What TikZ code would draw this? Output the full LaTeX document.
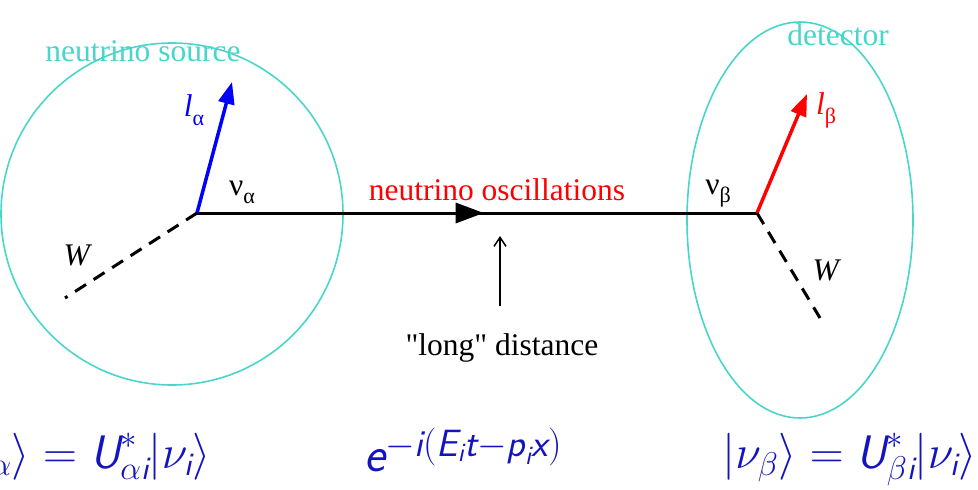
\RequirePackage{fix-cm}
\documentclass[tikz,border=0pt]{standalone}
\usepackage{amsmath}
\usepackage{fontspec}
\setmainfont{Liberation Serif}
\newfontfamily\qfont{Liberation Serif}
\usetikzlibrary{arrows.meta,decorations.markings}
\definecolor{turq}{RGB}{72,214,204}
\definecolor{eqblue}{RGB}{20,20,190}
\newcommand{\sfit}[1]{\text{\sffamily\itshape #1}}
\begin{document}
\begin{tikzpicture}[x=1pt,y=-1pt,
  txt/.style={inner sep=0pt,font=\fontsize{31.5}{36}\selectfont},
  eqn/.style={inner sep=0pt,text=eqblue,font=\fontsize{47}{52}\selectfont},
  halo/.style={draw=turq,line width=1.6pt},
  fermion/.style={line width=3pt},
  lepton/.style={line width=3.5pt,-{Triangle[length=22pt,width=16pt]}},
  wline/.style={line width=3pt,dash pattern=on 13pt off 9pt}
]
\useasboundingbox (0,0) rectangle (978,490);
% halos
\draw[halo] (172,214) circle (171);
\draw[halo] (800,220) ellipse (113 and 198);
\node[txt,text=turq] (src) at (143,51) {neutrino source};
\node[txt,text=turq] (det) at (838,35) {detector};
% vertices
\coordinate (va) at (197,213);
\coordinate (vb) at (757,213);
\coordinate (la) at (232,82);
\coordinate (lb) at (807,94);
\coordinate (wa) at (65,298);
\coordinate (wb) at (820,318);
% main propagator
\draw[fermion,postaction={decorate},decoration={markings,
  mark=at position 0.512 with {\arrow{Triangle[length=28pt,width=20pt]}}}] (va) -- (vb);
% leptons
\draw[lepton,blue] (va) -- (la);
\draw[lepton,red] (vb) -- (lb);
% W lines
\draw[wline] (va) -- (wa);
\draw[wline] (vb) -- (wb);
% labels
\node[txt,text=blue] (lal) at (194,110) {\textit{l}\raisebox{-9pt}{\fontsize{22}{24}\selectfont α}};
\node[txt,text=red] (lbl) at (826,110) {\textit{l}\raisebox{-9pt}{\fontsize{22}{24}\selectfont β}};
\node[txt] (nal) at (242,192) {ν\raisebox{-8pt}{\fontsize{22}{24}\selectfont α}};
\node[txt] (nbl) at (718,194) {ν\raisebox{-8pt}{\fontsize{22}{24}\selectfont β}};
\node[txt] (wal) at (78,255) {\textit{W}};
\node[txt] (wbl) at (827,270) {\textit{W}};
\node[txt,text=red] (osc) at (497,190) {neutrino oscillations};
% long distance
\node[txt] (dist) at (502,348) {\qfont "long" distance};
\coordinate (dbase) at (500,306);
\coordinate (dtip) at (500,236);
\draw[line width=1.5pt,-{Straight Barb[length=9pt,width=12pt]}] (dbase) -- (dtip);
% equations
\node[eqn,anchor=base east] (eqa) at (211,468) {$|\nu_\alpha\rangle = \sfit{U}^*_{\alpha \sfit{i}}|\nu_{\sfit{i}}\rangle$};
\node[eqn,anchor=base west] (eqc) at (364,471) {\fontsize{50}{54}\selectfont$\sfit{e}$\raisebox{15pt}{\fontsize{38}{42}\selectfont$-\sfit{i}(\sfit{E}_{\sfit{i}}\sfit{t}{-}\sfit{p}_{\sfit{i}}\sfit{x})$}};
\node[eqn,anchor=base west] (eqb) at (722,468) {$|\nu_\beta\rangle = \sfit{U}^*_{\beta \sfit{i}}|\nu_{\sfit{i}}\rangle$};
\end{tikzpicture}
\end{document}
